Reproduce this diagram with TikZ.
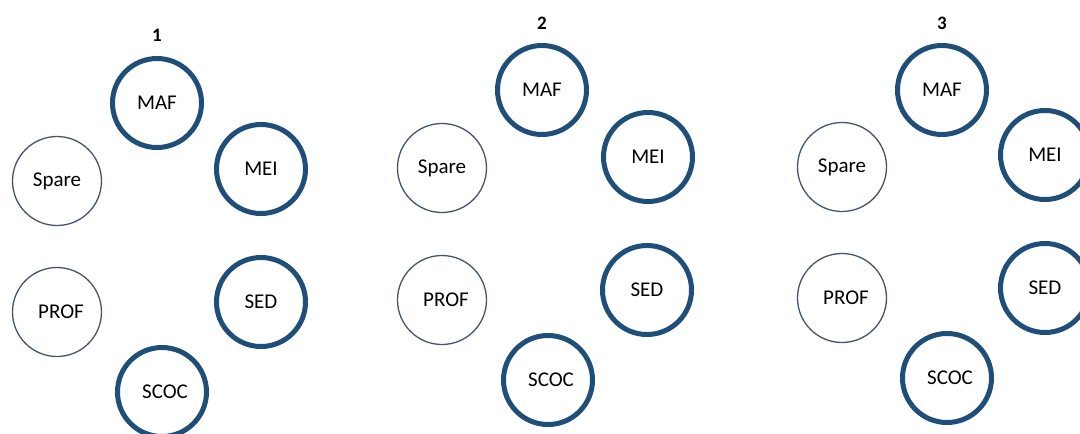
\documentclass[tikz,border=0pt]{standalone}
\usepackage{fontspec}
\setmainfont{Carlito}
\definecolor{ringblue}{RGB}{31,78,121}
\definecolor{sparegray}{RGB}{68,84,106}
\tikzset{
  busy/.style={circle,draw=ringblue,line width=5pt,minimum size=89pt,inner sep=0pt,font=\fontsize{21}{25}\selectfont},
  free/.style={circle,draw=sparegray,line width=1.3pt,minimum size=89pt,inner sep=0pt,font=\fontsize{21}{25}\selectfont},
  steplabel/.style={font=\fontsize{19}{22}\selectfont\bfseries}
}
\begin{document}
\begin{tikzpicture}[x=1pt,y=1pt,yscale=-1,xscale=1]
\useasboundingbox (0,0) rectangle (1080,434);
\clip (0,0) rectangle (1080,434);

%Step 1
\node [steplabel] (lab1) at (157,35) {1};
\node [busy] (maf1) at (157,103) {MAF};
\node [busy] (mei1) at (261,169) {MEI};
\node [free] (spare1) at (57,181) {Spare};
\node [free] (prof1) at (57,312) {\hspace{8pt}PROF};
\node [busy] (sed1) at (261,302) {SED};
\node [busy] (scoc1) at (162,392) {\hspace{6pt}SCOC};

%Step 2
\node [steplabel] (lab2) at (542,23) {2};
\node [busy] (maf2) at (542,90) {MAF};
\node [busy] (mei2) at (648,157) {MEI};
\node [free] (spare2) at (442,168) {Spare};
\node [free] (prof2) at (442,300) {\hspace{8pt}PROF};
\node [busy] (sed2) at (647,290) {SED};
\node [busy] (scoc2) at (548,380) {\hspace{6pt}SCOC};

%Step 3
\node [steplabel] (lab3) at (942,23) {3};
\node [busy] (maf3) at (942,90) {MAF};
\node [busy] (mei3) at (1045,155) {MEI};
\node [free] (spare3) at (842,167) {Spare};
\node [free] (prof3) at (842,298) {\hspace{8pt}PROF};
\node [busy] (sed3) at (1045,288) {SED};
\node [busy] (scoc3) at (947,378) {\hspace{6pt}SCOC};

\end{tikzpicture}
\end{document}
